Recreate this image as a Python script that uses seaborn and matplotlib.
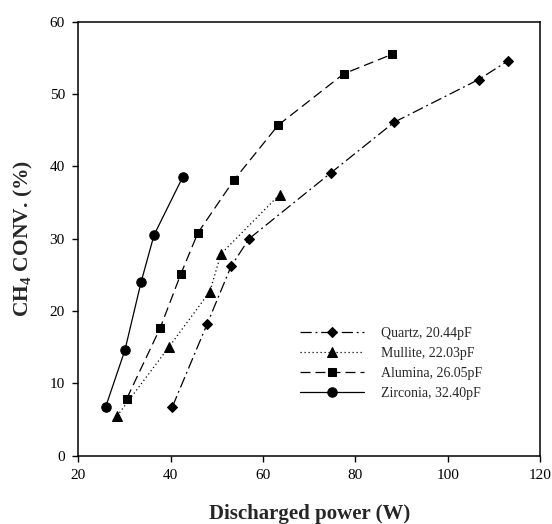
import matplotlib
matplotlib.use("Agg")
import matplotlib.pyplot as plt
import seaborn as sns
import pandas as pd

# Data
quartz_x = [40.4, 47.9, 53.1, 57.0, 74.7, 88.4, 106.7, 113.1]
quartz_y = [6.8, 18.2, 26.2, 30.0, 39.1, 46.1, 52.0, 54.6]
mullite_x = [28.4, 39.6, 48.5, 50.9, 63.6]
mullite_y = [5.5, 15.0, 22.7, 27.9, 36.1]
alumina_x = [30.5, 37.7, 42.2, 45.9, 53.7, 63.3, 77.5, 88.0]
alumina_y = [7.9, 17.6, 25.1, 30.8, 38.1, 45.7, 52.8, 55.5]
zirconia_x = [25.9, 30.1, 33.6, 36.4, 42.6]
zirconia_y = [6.7, 14.6, 24.0, 30.5, 38.5]
labels = ["Quartz, 20.44pF", "Mullite, 22.03pF", "Alumina, 26.05pF", "Zirconia, 32.40pF"]
x_ticks = [20, 40, 60, 80, 100, 120]
y_ticks = [0, 10, 20, 30, 40, 50, 60]

sns.set_style("ticks")
plt.rcParams['font.family'] = ['Liberation Serif', 'DejaVu Serif']
plt.rcParams['mathtext.fontset'] = 'custom'
plt.rcParams['mathtext.rm'] = 'Liberation Serif'
plt.rcParams['mathtext.bf'] = 'Liberation Serif:bold'

series = [
    (quartz_x, quartz_y, labels[0], 'D', (0, (9, 3, 1.5, 3)), 5.2),
    (mullite_x, mullite_y, labels[1], '^', (0, (1, 2.2)), 7.2),
    (alumina_x, alumina_y, labels[2], 's', (0, (8, 4)), 6.4),
    (zirconia_x, zirconia_y, labels[3], 'o', '-', 6.8),
]

fig = plt.figure(figsize=(5.52, 5.24), dpi=100)
L, R, B, T = 78.3 / 552, 540 / 552, 1 - 455.7 / 524, 1 - 21.7 / 524
ax = fig.add_axes([L, B, R - L, T - B])

for xs, ys, lab, mk, ls, ms in series:
    df = pd.DataFrame({"x": xs, "y": ys})
    sns.lineplot(data=df, x="x", y="y", ax=ax, sort=False, color="black",
                 marker=mk, markersize=ms, markeredgecolor="black",
                 markerfacecolor="black", linestyle=ls, linewidth=0.9, label=lab)

ax.set_xlim(20, 120)
ax.set_ylim(0, 60)
ax.set_xticks(x_ticks)
ax.set_yticks(y_ticks)
ax.tick_params(direction='out', length=4.2, width=1, pad=5.5, labelsize=11, colors='black')
for s in ax.spines.values():
    s.set_linewidth(1.1)
    s.set_color('black')

ax.set_xlabel("Discharged power (W)", fontsize=15, fontweight='bold')
ax.set_ylabel(r"CH$_\mathbf{4}$ CONV. (%)", fontsize=15.5, fontweight='bold')
ax.xaxis.set_label_coords(0.5, -0.152 * 0 + (1 - 513.5 / 524 - B) / (T - B), transform=ax.transAxes)
ax.xaxis.label.set_va('center')
ax.yaxis.set_label_coords((23.5 / 552 - L) / (R - L), 0.5, transform=ax.transAxes)
ax.yaxis.label.set_va('center')

leg = ax.legend(loc='upper left', bbox_to_anchor=(300 / 552, 1 - 327 / 524),
                bbox_transform=fig.transFigure, frameon=False, borderpad=0,
                borderaxespad=0, fontsize=10, handlelength=4.6, handletextpad=1.2,
                labelspacing=0.5, numpoints=1)

fig.savefig("out.png", dpi=100)
